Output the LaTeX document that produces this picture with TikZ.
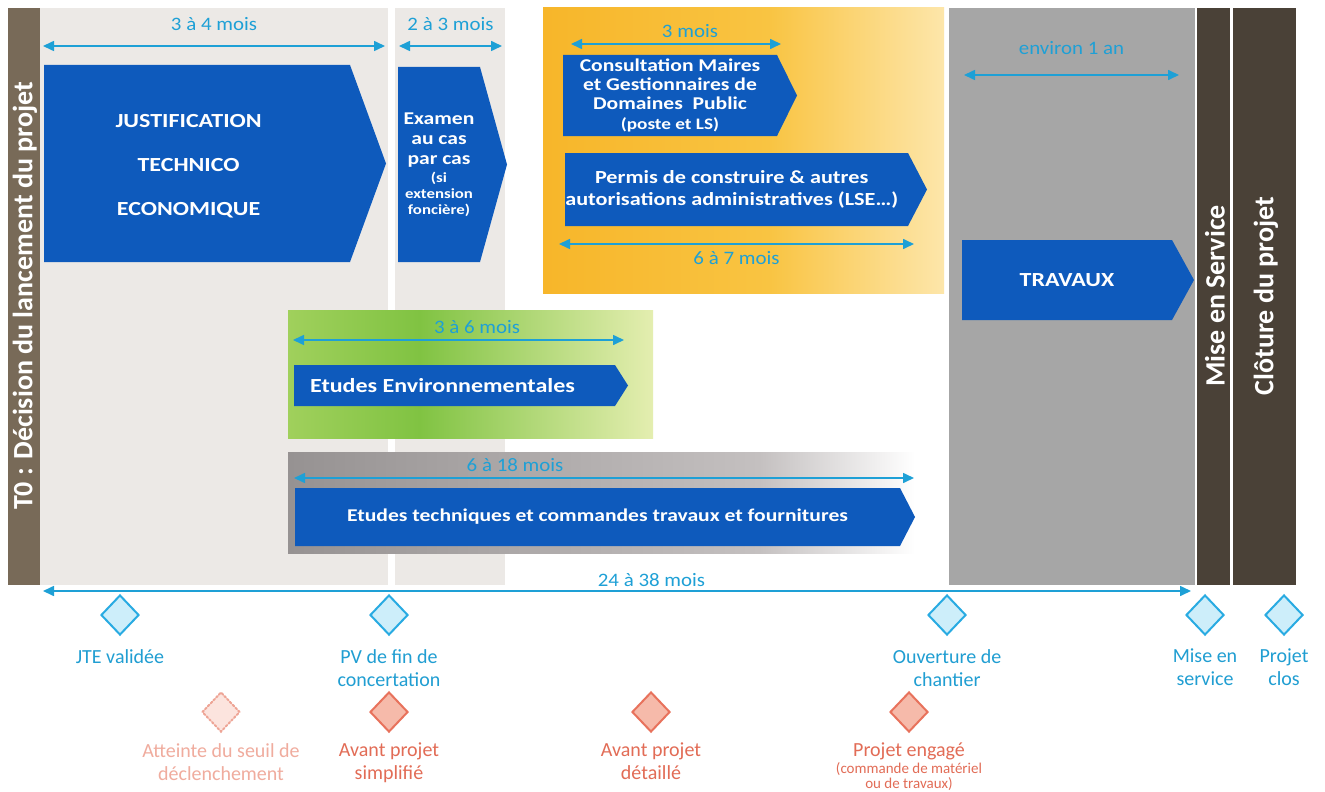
\documentclass[tikz,border=0pt]{standalone}
\usepackage{fontspec}
\setmainfont{Carlito}
\usetikzlibrary{arrows.meta, positioning, shapes.geometric}

\definecolor{bandgray}{RGB}{236,233,230}
\definecolor{tzerobrown}{RGB}{120,106,88}
\definecolor{darkbrown}{RGB}{74,65,55}
\definecolor{worksgray}{RGB}{166,166,166}
\definecolor{phaseblue}{RGB}{14,90,188}
\definecolor{spancyan}{RGB}{30,160,214}
\definecolor{jalonblue}{RGB}{41,171,226}
\definecolor{jalonfill}{RGB}{205,238,250}
\definecolor{jalontext}{RGB}{32,158,210}
\definecolor{projstroke}{RGB}{232,114,92}
\definecolor{projfill}{RGB}{246,186,170}
\definecolor{projtext}{RGB}{226,108,86}
\definecolor{palestroke}{RGB}{238,165,150}
\definecolor{palefill}{RGB}{252,228,222}
\definecolor{paletext}{RGB}{240,172,158}
\definecolor{ylwA}{RGB}{247,182,42}
\definecolor{ylwB}{RGB}{249,196,66}
\definecolor{ylwC}{RGB}{253,230,170}
\definecolor{grnA}{RGB}{160,208,92}
\definecolor{grnB}{RGB}{128,195,66}
\definecolor{grnC}{RGB}{228,238,176}
\definecolor{gryA}{RGB}{150,146,146}
\definecolor{gryB}{RGB}{196,192,192}

\newcommand\petit{\fontsize{14}{16}\selectfont}

% blue chevron: [text options]{name}{x1}{y1}{x2}{y2}{tip}{text}
\newcommand\phasebox[8][]{%
  \fill[phaseblue] (#3,#4) -- ({#5-#7},#4) -- (#5,{(#4+#6)/2}) -- ({#5-#7},#6)
    -- (#3,#6) -- cycle;
  \node[phasetext,#1] (#2) at ({(#3+#5-#7)/2},{(#4+#6)/2}) {#8};}

\tikzset{
  phasetext/.style={text=white, align=center, inner sep=0pt, xscale=1.2,
    font=\bfseries\fontsize{20}{23}\selectfont},
  bartext/.style={text=white, rotate=90, inner sep=0pt,
    font=\bfseries\fontsize{28}{30}\selectfont},
  span/.style={{Triangle[width=10pt,length=11pt]}-{Triangle[width=10pt,length=11pt]},
    draw=spancyan, line width=1.6pt, shorten <=1pt, shorten >=1pt},
  spanlabel/.style={text=spancyan, inner sep=0pt, xscale=1.1,
    font=\fontsize{19}{21}\selectfont},
  jalon/.style={diamond, draw=jalonblue, fill=jalonfill, line width=2pt,
    minimum width=38pt, minimum height=40pt, inner sep=0pt},
  projalon/.style={jalon, draw=projstroke, fill=projfill},
  seuil/.style={jalon, draw=palestroke, fill=palefill, dotted, line cap=round},
  jalonlabel/.style={text=jalontext, align=center, inner sep=0pt,
    font=\fontsize{20}{23}\selectfont},
  projlabel/.style={jalonlabel, text=projtext},
}

\begin{document}
\begin{tikzpicture}[x=1pt, y=-1pt]
  \useasboundingbox (0,0) rectangle (1325,792);
  \fill[white] (0,0) rectangle (1325,792);

  % background bands and bars
  \fill[bandgray] (40,8) rectangle (388,585);
  \fill[bandgray] (395,8) rectangle (505,585);
  \fill[tzerobrown] (8,8) rectangle (40,585);
  \fill[worksgray] (949,8) rectangle (1195,585);
  \fill[darkbrown] (1197,8) rectangle (1230,585);
  \fill[darkbrown] (1233,8) rectangle (1296,585);

  \node[bartext] (tzero)   at (25,296)   {T0 : Décision du lancement du projet};
  \node[bartext] (miseen)  at (1215,296) {Mise en Service};
  \node[bartext] (cloture) at (1266,296) {Clôture du projet};

  % shaded blocks
  \fill[left color=ylwA, right color=ylwB] (543,8) rectangle (770,293);
  \fill[left color=ylwB, right color=ylwC] (769,8) rectangle (944,293);
  \fill[left color=grnA, right color=grnB] (288,310) rectangle (420,438);
  \fill[left color=grnB, right color=grnC] (419,310) rectangle (653,438);
  \fill[left color=gryA, right color=gryB] (288,452) rectangle (760,553);
  \fill[left color=gryB, right color=white] (759,452) rectangle (915,553);

  % phases
  \phasebox[xshift=-7pt, yshift=-3pt]{jte}{44}{65}{386}{262}{36}{JUSTIFICATION\\[21pt]TECHNICO\\[21pt]ECONOMIQUE}
  \phasebox[font=\bfseries\fontsize{18}{20}\selectfont]{examen}{398}{67}{507}{262}{27}{Examen\\
    au cas\\par cas\\[-2pt] \petit (si\\[-4pt] \petit extension\\[-4pt] \petit foncière)}
  \phasebox[font=\bfseries\fontsize{18}{19}\selectfont]{consult}{563}{55}{797}{136}{20}{Consultation Maires\\
    et Gestionnaires de\\Domaines~~Public\\[1pt] \fontsize{16}{18}\selectfont (poste et LS)}
  \phasebox[font=\bfseries\fontsize{18.5}{22}\selectfont, xshift=-4pt]{permis}{565}{153}{927}{226}{19}{Permis de construire \& autres\\
    autorisations administratives (LSE…)}
  \phasebox{travaux}{962}{240}{1194}{320}{22}{TRAVAUX}
  \phasebox[xshift=-10pt]{etenv}{294}{365}{628}{406}{13}{Etudes Environnementales}
  \phasebox[font=\bfseries\fontsize{18}{20}\selectfont]{ettech}{295}{488}{915}{546}{15}{Etudes techniques et commandes travaux et fournitures}

  % durations
  \coordinate (a1) at (42,46);    \coordinate (b1) at (386,46);
  \coordinate (a2) at (398,46);   \coordinate (b2) at (503,46);
  \coordinate (a3) at (570,44);   \coordinate (b3) at (782,44);
  \coordinate (a4) at (558,244);  \coordinate (b4) at (915,244);
  \coordinate (a5) at (963,75);   \coordinate (b5) at (1180,75);
  \coordinate (a6) at (292,340);  \coordinate (b6) at (625,340);
  \coordinate (a7) at (293,478);  \coordinate (b7) at (915,478);
  \coordinate (a8) at (42,591);   \coordinate (b8) at (1192,591);

  \draw[span] (a1) -- node[spanlabel, above=15pt] {3 à 4 mois} (b1);
  \draw[span] (a2) -- node[spanlabel, above=15pt] {2 à 3 mois} (b2);
  \draw[span] (a3) -- node[spanlabel, above=6pt, pos=0.566] {3 mois} (b3);
  \draw[span] (a4) -- node[spanlabel, below=7pt] {6 à 7 mois} (b4);
  \draw[span] (a5) -- node[spanlabel, above=20pt] {environ 1 an} (b5);
  \draw[span] (a6) -- node[spanlabel, above=6pt, pos=0.556] {3 à 6 mois} (b6);
  \draw[span] (a7) -- node[spanlabel, above=6pt, pos=0.357] {6 à 18 mois} (b7);
  \draw[span] (a8) -- node[spanlabel, above=4pt, pos=0.53] {24 à 38 mois} (b8);

  % milestones
  \node[jalon] (jtev)  at (120,615)  {};
  \node[jalon] (pvfin) at (389,615)  {};
  \node[jalon] (ouv)   at (947,615)  {};
  \node[jalon] (mes)   at (1205,615) {};
  \node[jalon] (clos)  at (1284,615) {};
  \node[jalonlabel, below=13pt of jtev]  {JTE validée};
  \node[jalonlabel, below=13pt of pvfin] {PV de fin de\\concertation};
  \node[jalonlabel, below=13pt of ouv]   {Ouverture de\\chantier};
  \node[jalonlabel, below=13pt of mes]   {Mise en\\service};
  \node[jalonlabel, below=13pt of clos]  {Projet\\clos};

  \node[seuil]    (seuil) at (221,712) {};
  \node[projalon] (aps)   at (389,712) {};
  \node[projalon] (apd)   at (651,712) {};
  \node[projalon] (engage) at (909,712) {};
  \node[projlabel, text=paletext, below=10pt of seuil] {Atteinte du seuil de\\déclenchement};
  \node[projlabel, below=10pt of aps] {Avant projet\\simplifié};
  \node[projlabel, below=10pt of apd] {Avant projet\\détaillé};
  \node[projlabel, below=10pt of engage] (engtxt) {Projet engagé};
  \node[projlabel, below=2pt of engtxt, font=\fontsize{15}{15}\selectfont]
    {(commande de matériel\\ou de travaux)};
\end{tikzpicture}
\end{document}
